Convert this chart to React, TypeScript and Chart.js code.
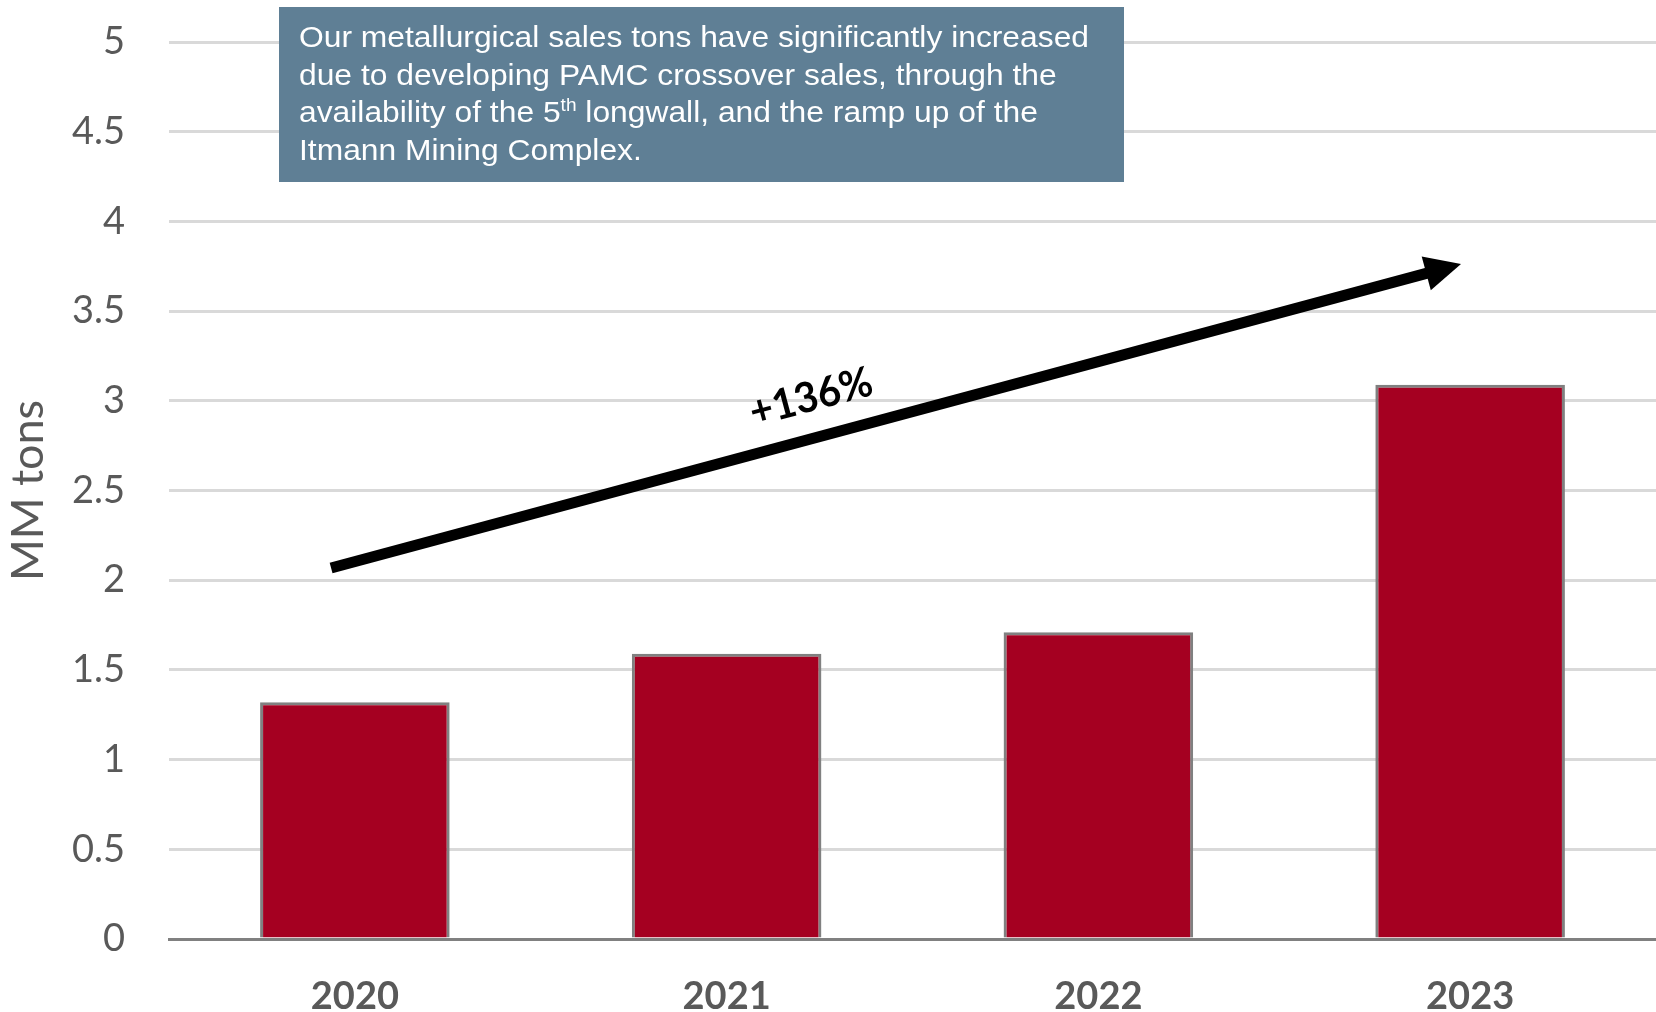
import { useEffect, useRef } from 'react';
import { Chart, registerables } from 'chart.js';

Chart.register(...registerables);

// ---- data ----
const categories: string[] = ['2020', '2021', '2022', '2023'];
const salesTons: number[] = [1.32, 1.59, 1.71, 3.09];
const yTickValues: number[] = [0, 0.5, 1, 1.5, 2, 2.5, 3, 3.5, 4, 4.5, 5];
const yAxisTitle = 'MM tons';
const growthLabel = '+136%';
// arrow endpoints in data units (category index, MM tons)
const arrowStart = { x: -0.064, y: 2.068 };
const arrowEnd = { x: 2.9755, y: 3.7625 };
// note text; each line is a list of [text, isSuperscript]
const noteLines: [string, boolean][][] = [
  [['Our metallurgical sales tons have significantly increased', false]],
  [['due to developing PAMC crossover sales, through the', false]],
  [['availability of the 5', false], ['th', true], [' longwall, and the ramp up of the', false]],
  [['Itmann Mining Complex.', false]],
];

const annotationPlugin = {
  id: 'annotationPlugin',
  afterDatasetsDraw(chart: any) {
    const ctx: CanvasRenderingContext2D = chart.ctx;
    const xs = chart.scales.x;
    const ys = chart.scales.y;

    // ---- arrow ----
    const x1 = xs.getPixelForValue(arrowStart.x);
    const y1 = ys.getPixelForValue(arrowStart.y);
    const x2 = xs.getPixelForValue(arrowEnd.x);
    const y2 = ys.getPixelForValue(arrowEnd.y);
    const ang = Math.atan2(y2 - y1, x2 - x1);
    const headLen = 36;
    const headHalf = 17.5;
    const bx = x2 - Math.cos(ang) * headLen;
    const by = y2 - Math.sin(ang) * headLen;
    ctx.save();
    ctx.strokeStyle = '#000000';
    ctx.fillStyle = '#000000';
    ctx.lineWidth = 11;
    ctx.lineCap = 'butt';
    ctx.beginPath();
    ctx.moveTo(x1, y1);
    ctx.lineTo(bx + Math.cos(ang) * 2, by + Math.sin(ang) * 2);
    ctx.stroke();
    ctx.beginPath();
    ctx.moveTo(x2, y2);
    ctx.lineTo(bx + Math.sin(ang) * headHalf, by - Math.cos(ang) * headHalf);
    ctx.lineTo(bx - Math.sin(ang) * headHalf, by + Math.cos(ang) * headHalf);
    ctx.closePath();
    ctx.fill();

    // ---- growth label ----
    const t = 0.434;
    const lx = x1 + (x2 - x1) * t;
    const ly = y1 + (y2 - y1) * t;
    const off = 40;
    const cx = lx + Math.sin(ang) * off;
    const cy = ly - Math.cos(ang) * off;
    ctx.translate(cx, cy);
    ctx.rotate(ang);
    ctx.font = 'bold 42px Lato';
    ctx.textAlign = 'center';
    ctx.textBaseline = 'middle';
    ctx.save();
    ctx.scale(0.95, 1);
    ctx.fillText(growthLabel, 0, 0);
    ctx.restore();
    ctx.restore();

    // ---- note box ----
    ctx.save();
    ctx.fillStyle = '#5F7F95';
    ctx.fillRect(279, 7, 845, 175);
    ctx.fillStyle = '#FFFFFF';
    ctx.textBaseline = 'alphabetic';
    ctx.textAlign = 'left';
    const mainFont = '30px "Liberation Sans", Arial, sans-serif';
    const supFont = '18px "Liberation Sans", Arial, sans-serif';
    ctx.font = mainFont;
    const firstW = ctx.measureText(noteLines[0].map((s) => s[0]).join('')).width;
    const sx = 790 / firstW;
    const textLeft = 299;
    const baselines = [47, 84.5, 122, 159.5];
    noteLines.forEach((segs, i) => {
      ctx.save();
      ctx.translate(textLeft, baselines[i]);
      ctx.scale(sx, 1);
      let x = 0;
      segs.forEach(([txt, sup]) => {
        ctx.font = sup ? supFont : mainFont;
        ctx.fillText(txt, x, sup ? -11 : 0);
        x += ctx.measureText(txt).width;
      });
      ctx.restore();
    });
    ctx.restore();
  },
};

export default function App() {
  const canvasRef = useRef<HTMLCanvasElement | null>(null);

  useEffect(() => {
    if (!canvasRef.current) return;
    const chart = new Chart(canvasRef.current, {
      type: 'bar',
      data: {
        labels: categories,
        datasets: [
          {
            label: 'Metallurgical sales',
            data: salesTons,
            backgroundColor: '#A50021',
            borderColor: '#808080',
            borderWidth: 3,
            categoryPercentage: 1,
            barPercentage: 0.51,
          },
        ],
      },
      options: {
        animation: false,
        responsive: true,
        maintainAspectRatio: false,
        layout: { padding: { top: 42, left: 0, right: 0, bottom: 0 } },
        plugins: {
          legend: { display: false },
          tooltip: { enabled: false },
        },
        scales: {
          x: {
            z: 1,
            grid: { display: false, drawTicks: false },
            border: { display: true, color: '#808080', width: 3 },
            ticks: {
              color: '#595959',
              font: { family: 'Lato', size: 38, weight: 'bold' },
              padding: 35,
            },
            afterFit: (scale: any) => {
              scale.height = 73;
            },
          },
          y: {
            min: 0,
            max: 5,
            afterBuildTicks: (scale: any) => {
              scale.ticks = yTickValues.map((v) => ({ value: v }));
            },
            grid: {
              drawTicks: true,
              tickLength: 44,
              tickColor: 'rgba(0,0,0,0)',
              lineWidth: 3,
              color: (c: any) => (c.tick && c.tick.value === 0 ? '#808080' : '#D9D9D9'),
            },
            border: { display: false },
            ticks: {
              color: '#595959',
              font: { family: 'Lato', size: 38 },
              padding: 0,
              callback: (v: any) => String(v),
            },
            title: {
              display: true,
              text: yAxisTitle,
              color: '#595959',
              font: { family: 'Lato', size: 45, lineHeight: 1 },
              padding: { top: 6, bottom: 0 },
            },
            afterFit: (scale: any) => {
              scale.width = 169;
            },
          },
        },
      },
      plugins: [annotationPlugin],
    });
    return () => chart.destroy();
  }, []);

  return (
    <div style={{ position: 'fixed', left: 0, top: 0, width: 1656, height: 1012, background: '#FFFFFF' }}>
      <canvas ref={canvasRef} />
    </div>
  );
}
